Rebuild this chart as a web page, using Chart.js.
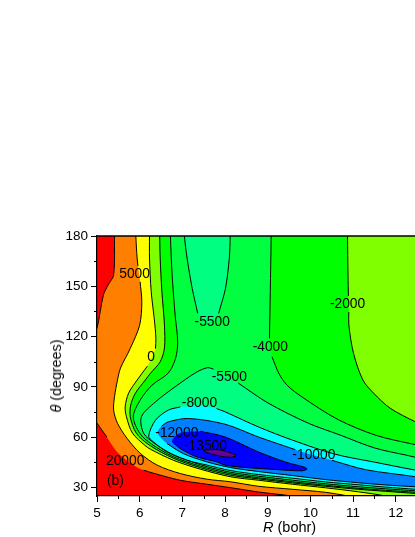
<!DOCTYPE html>
<html lang="en">

<head>
    <meta charset="UTF-8">
    <title>Contour plot</title>
    <script src="https://cdn.jsdelivr.net/npm/chart.js"></script>
    <style>
        body {
            margin: 0;
            padding: 0;
            background: #ffffff;
            font-family: 'Liberation Sans', Arial, sans-serif;
            color: #000000;
        }

        #wrap {
            position: relative;
            width: 415px;
            height: 537px;
            overflow: hidden;
        }

        #xTitle {
            position: absolute;
            left: 263px;
            top: 519px;
            font-size: 14.5px;
            white-space: nowrap;
        }

        #yTitle {
            position: absolute;
            left: 56px;
            top: 376px;
            font-size: 14.3px;
            white-space: nowrap;
            transform: translate(-50%, -50%) rotate(-90deg);
        }
    </style>
</head>

<body>
    <div id="wrap">
        <canvas id="contour" width="415" height="537"></canvas>
        <div id="xTitle"><i>R</i> (bohr)</div>
        <div id="yTitle"><i>θ</i> (degrees)</div>
    </div>

    <script>
        const xTicks = [5, 6, 7, 8, 9, 10, 11, 12];
        const xMinorTicks = [5.5, 6.5, 7.5, 8.5, 9.5, 10.5, 11.5];
        const yTicks = [30, 60, 90, 120, 150, 180];
        const yMinorTicks = [45, 75, 105, 135, 165];

        // contours as [R, theta], null = break in the drawn line (a label sits there)
        const level20000Upper = [[5.41, 186.6], [5.41, 180], [5.39, 156.7], [5.26, 150.8], [5.15, 144.8], [5.0, 125.1], [4.84, 115]];
        const level20000Lower = [[4.84, 74.4], [5.0, 68.4], [5.23, 60.2], null, [5.47, 51.3], null, [5.86, 43.4], null, [6.09, 40.4], [6.32, 38.6], [6.95, 34.4], [7.58, 32.0], [8.12, 30.0], [8.78, 27.4], [9.58, 25.0], [10.23, 22.5]];
        const level5000 = [[5.91, 186.6], [5.91, 180], [5.94, 166.9], [5.96, 162.1], null, [6.01, 152.7], [6.05, 140.8], [6.0, 126.9], [5.78, 113], [5.55, 101.2], [5.48, 94.1], [5.41, 84.1], [5.39, 76.2], [5.48, 68.4], [5.70, 59.5], [6.01, 50.5], [6.41, 43.4], [6.95, 38.4], [7.58, 35.0], [8.12, 33.5], [8.78, 30.8], [9.58, 29.0], [10.35, 27.2], [10.89, 25.0], [11.41, 22.5]];
        const level0 = [[6.23, 186.6], [6.23, 180], [6.23, 166.9], [6.27, 146.8], [6.34, 130.9], [6.38, 119.1], [6.37, 112.9], null, [6.18, 102.4], [5.94, 94.1], [5.74, 86.3], [5.66, 78.1], [5.69, 72.2], [5.83, 62.5], [6.13, 55.0], [6.25, 52.9], [6.79, 46.3], [7.42, 41.0], [8.12, 36.5], [8.78, 34.4], [9.58, 32.0], [10.35, 29.9], [11.12, 27.5], [11.76, 25.0], [12.11, 22.5]];
        const level2000Left = [[6.47, 186.6], [6.47, 180], [6.48, 166.9], [6.52, 146.8], [6.58, 126.9], [6.58, 113.2], [6.48, 105.0], [6.25, 98.1], [6.13, 94.1], [5.90, 86.3], [5.79, 79.2], [5.78, 72.2], [5.92, 62.5], [6.23, 55.3], [6.79, 47.5], [7.42, 41.9], [8.12, 37.4], [8.78, 35.2], [9.58, 32.8], [10.35, 30.8], [11.12, 29.0], [11.76, 27.8], [12.46, 26.5], [12.81, 25.8]];
        const level2000Right = [[10.87, 186.6], [10.87, 180], [10.88, 156.7], [10.89, 144.2], null, [10.90, 134.7], [10.90, 126.9], [11.01, 110], [11.23, 94.1], [11.48, 86.3], [11.87, 77.3], [12.46, 69.2], [12.81, 65.4]];
        const level4000Left = [[6.72, 186.6], [6.72, 180], [6.76, 156.7], [6.83, 132.9], [6.89, 116.9], [6.84, 107], [6.67, 98.3], [6.29, 91.1], [6.01, 82.1], [5.85, 72.2], [6.0, 62.5], [6.28, 55.9], [6.79, 48.4], [7.42, 42.8], [8.12, 38.3], [8.78, 35.9], [9.58, 33.5], [10.35, 31.4], [11.12, 29.6], [11.76, 28.4], [12.46, 27.2], [12.81, 26.6]];
        const level4000Right = [[9.08, 186.6], [9.08, 179.6], [9.06, 146.8], [9.04, 119], null, [9.10, 108], [9.26, 98.1], [9.45, 91.1], [9.80, 84.1], [10.63, 70.8], [11.52, 61.3], [12.46, 55.6], [12.81, 54.1]];
        const level5500Top = [[7.05, 186.6], [7.05, 179.6], [7.11, 166.9], [7.23, 148.8], [7.36, 133.9], null, [7.61, 128.1], null, [7.85, 133.9], [8.01, 148.8], [8.10, 166.9], [8.12, 179.6], [8.12, 186.6]];
        const level5500Well = [[12.81, 45.1], [12.46, 48.1], [11.52, 53.5], [10.70, 61.3], [9.95, 68.4], [9.01, 80.4], [8.31, 92.3], null, [7.73, 100.6], [7.59, 101.5], [7.33, 98.8], [6.83, 90.1], [6.37, 81.1], [6.04, 72.2], [6.09, 62.5], [6.34, 56.5], [6.79, 49.6], [7.42, 43.7], [8.12, 39.2], [8.78, 36.8], [9.58, 34.4], [10.35, 32.3], [11.12, 30.5], [11.76, 29.3], [12.46, 28.1], [12.81, 27.5]];
        const level8000 = [[12.81, 38.9], [12.46, 40.4], [11.52, 45.1], [10.58, 49.9], [9.58, 58.3], [8.78, 66.2], [8.0, 75.2], [7.8, 77.1], null, [7.37, 79.2], null, [6.95, 78.1], [6.67, 76.2], [6.37, 70.2], [6.21, 60.7], [6.32, 57.3], [6.64, 51.3], [7.11, 46.3], [7.58, 43.4], [8.12, 40.2], [8.78, 37.8], [9.58, 35.6], [10.35, 33.4], [11.12, 31.7], [11.76, 30.3], [12.46, 29.0], [12.81, 28.4]];
        const level10000 = [[12.81, 35], [12.46, 36.5], [11.29, 40.7], [10.58, 45.7], [10.51, 46.3], null, [10.07, 49.3], null, [9.65, 52.6], [8.78, 60.2], [8.0, 67.8], [7.14, 71.2], [6.67, 69.2], [6.51, 66.6], null, [6.42, 62.5], null, [6.64, 56.3], [7.02, 50.3], [7.58, 45.3], [8.12, 42], [8.78, 39.6], [9.58, 37.2], [10.35, 34.8], [11.12, 32.9], [11.76, 31.6], [12.46, 30.5], [12.81, 30]];
        const level12000 = [[7.42, 63.6], [8.0, 60.2], [8.78, 51.3], [9.41, 45.3], [9.88, 42], [9.92, 41], [9.80, 40], [9.18, 40.8], [8.48, 42], [8.0, 43.4], [7.81, 45.3], [7.34, 48.3], [6.95, 53.3], [6.76, 57.7], null, [6.95, 62.5], null, [7.42, 63.6]];
        const level13500 = [[7.49, 52.3], [7.84, 52.6], [8.12, 50.8], [8.26, 49.0], [8.12, 48.1], [7.84, 49], [7.58, 50.8], [7.49, 52.3]];

        const outerCorners = [[14, 19], [14, 190]];
        const plotBounds = [[4, 10], [14, 10], [14, 200], [4, 200]];

        const labelTexts = ['5000', '0', '-5500', '-4000', '-2000', '-5500', '-8000', '-12000', '-13500', '-10000', '20000', '(b)'];
        const labelR = [5.88, 6.27, 7.70, 9.06, 10.87, 8.10, 7.40, 6.87, 7.54, 10.08, 5.66, 5.43];
        const labelTheta = [157.3, 107.6, 128.7, 113.6, 139.4, 95.9, 80.4, 62.3, 54.7, 49.3, 45.7, 33.8];

        const toXY = p => (p ? { x: p[0], y: p[1] } : { x: null, y: null });

        const shape = (points, color) => ({
            data: points.filter(Boolean).map(toXY),
            showLine: true,
            fill: 'shape',
            backgroundColor: color,
            borderWidth: 0,
            pointRadius: 0,
            tension: 0.3,
            capBezierPoints: false,
        });

        const contour = points => ({
            data: points.map(toXY),
            showLine: true,
            fill: false,
            borderColor: '#000000',
            borderWidth: 1,
            pointRadius: 0,
            tension: 0.3,
            capBezierPoints: false,
        });

        const fills = [
            shape(plotBounds, '#ff0000'),
            shape([...level20000Upper, ...level20000Lower, ...outerCorners], '#ff8000'),
            shape([...level5000, ...outerCorners], '#ffff00'),
            shape([...level0, ...outerCorners], '#80ff00'),
            shape([...level2000Left, ...[...level2000Right].reverse()], '#00ff00'),
            shape([...level4000Left, ...[...level4000Right].reverse()], '#00ff40'),
            shape(level5500Top, '#00ff80'),
            shape(level5500Well, '#00ff80'),
            shape(level8000, '#00ffff'),
            shape(level10000, '#0080ff'),
            shape(level12000, '#0000ff'),
            shape(level13500, '#660099'),
        ];
        fills[0].tension = 0;

        const lines = [level20000Upper, level20000Lower, level5000, level0, level2000Left, level2000Right,
            level4000Left, level4000Right, level5500Top, level5500Well, level8000, level10000, level12000, level13500].map(contour);

        const datasets = [...fills, ...lines];
        datasets.forEach((d, i) => { d.order = datasets.length - i; });

        const extras = {
            id: 'extras',
            afterDatasetsDraw(chart) {
                const { ctx, chartArea, scales } = chart;
                ctx.save();

                ctx.fillStyle = '#000000';
                ctx.font = "13.8px 'Liberation Sans'";
                ctx.textAlign = 'center';
                ctx.textBaseline = 'middle';
                labelTexts.forEach((t, i) => {
                    ctx.fillText(t, scales.x.getPixelForValue(labelR[i]), scales.y.getPixelForValue(labelTheta[i]));
                });

                // frame top line and minor ticks
                ctx.strokeStyle = '#000000';
                ctx.lineWidth = 1.5;
                ctx.beginPath();
                ctx.moveTo(chartArea.left - 1, chartArea.top);
                ctx.lineTo(chartArea.right, chartArea.top);
                ctx.stroke();

                ctx.lineWidth = 1;
                ctx.beginPath();
                xMinorTicks.forEach(v => {
                    const px = Math.round(scales.x.getPixelForValue(v)) + 0.5;
                    ctx.moveTo(px, chartArea.bottom);
                    ctx.lineTo(px, chartArea.bottom + 3);
                });
                yMinorTicks.forEach(v => {
                    const py = Math.round(scales.y.getPixelForValue(v)) + 0.5;
                    ctx.moveTo(chartArea.left, py);
                    ctx.lineTo(chartArea.left - 3, py);
                });
                ctx.stroke();
                ctx.restore();
            },
        };

        new Chart(document.getElementById('contour').getContext('2d'), {
            type: 'scatter',
            data: { datasets },
            plugins: [extras],
            options: {
                responsive: false,
                animation: false,
                layout: { padding: { top: 236, left: 0, right: 0, bottom: 0 } },
                plugins: {
                    legend: { display: false },
                    tooltip: { enabled: false },
                },
                scales: {
                    x: {
                        type: 'linear',
                        min: 5,
                        max: 12.45,
                        afterBuildTicks: s => { s.ticks = xTicks.map(value => ({ value })); },
                        afterFit: s => { s.height = 41; },
                        grid: { display: true, drawOnChartArea: false, color: '#000000', tickLength: 6, tickWidth: 1 },
                        border: { color: '#000000', width: 1.2, z: 1 },
                        ticks: { color: '#000000', font: { family: 'Liberation Sans', size: 13.5 }, padding: 3, autoSkip: false, maxRotation: 0 },
                    },
                    y: {
                        type: 'linear',
                        min: 25,
                        max: 180,
                        afterBuildTicks: s => { s.ticks = yTicks.map(value => ({ value })); },
                        afterFit: s => { s.width = 97; },
                        grid: { display: true, drawOnChartArea: false, color: '#000000', tickLength: 6, tickWidth: 1 },
                        border: { color: '#000000', width: 1.2, z: 1 },
                        ticks: { color: '#000000', font: { family: 'Liberation Sans', size: 13.5 }, padding: 3, autoSkip: false },
                    },
                },
            },
        });
    </script>
</body>

</html>
